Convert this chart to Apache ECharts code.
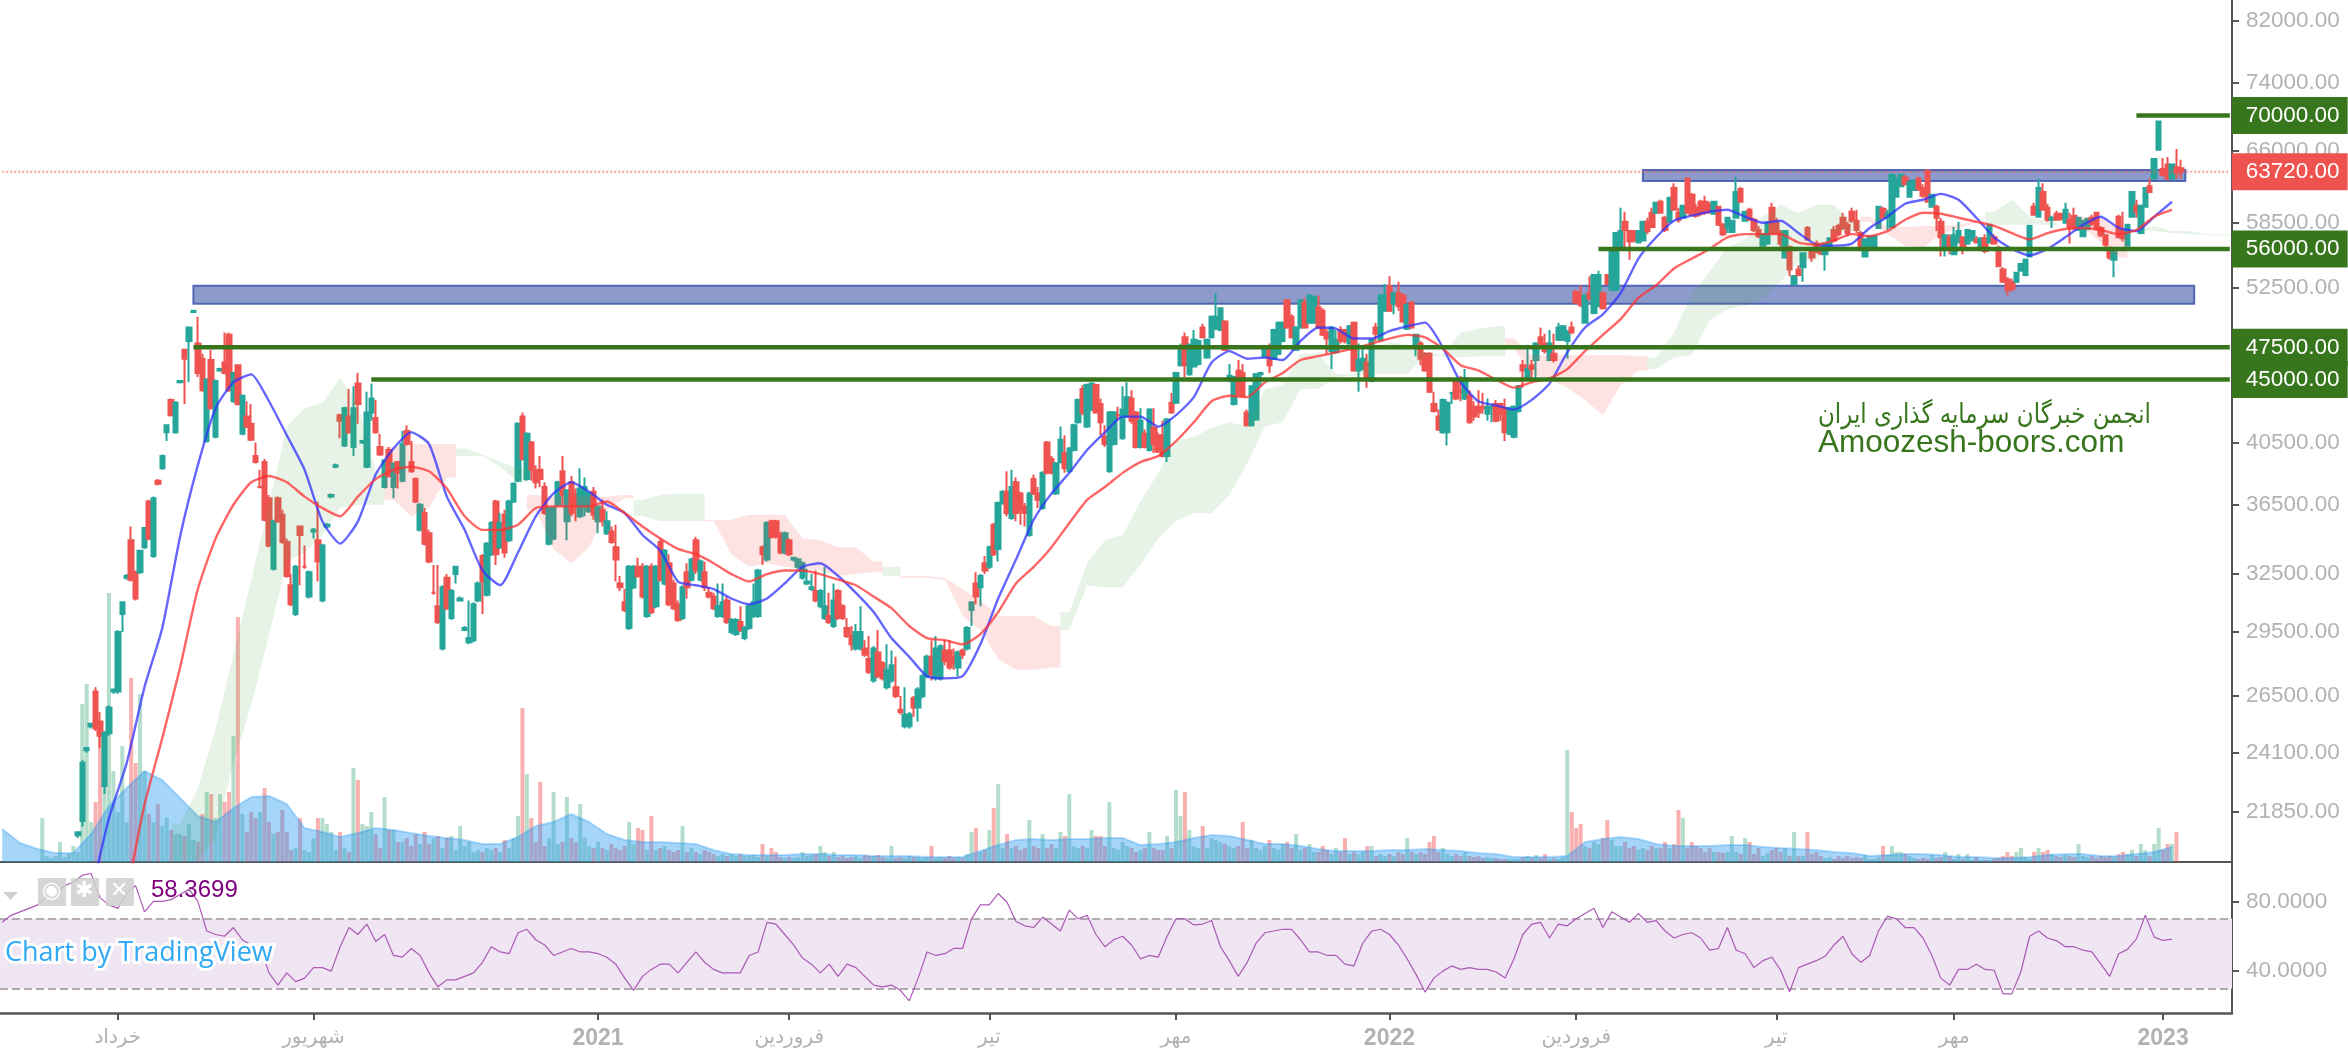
<!DOCTYPE html>
<html><head><meta charset="utf-8"><style>html,body{margin:0;padding:0;background:#fff}#c{width:2348px;height:1050px}</style>
<script src="https://cdn.jsdelivr.net/npm/echarts@6/dist/echarts.min.js"></script></head><body><div id="c"></div><script>
const BAR_COUNT=502, FIRST_CANDLE=17, PRICE_UNIT=100;
const tickBars=[26,70,134,177,222,264,312,354,399,439,486];
const tickNames=['خرداد','شهریور','2021','فروردین','تیر','مهر','2022','فروردین','تیر','مهر','2023'];
const priceTicks=[82000,74000,66000,58500,52500,40500,36500,32500,29500,26500,24100,21850];
const rsiTicks=[80,40];
// open, high, low, close in hundreds
const ohlc=[
[210,211,209,211],[215,238,213,237],[242,243,241,243],[252,253,251,253],[267,269,250,251],[254,258,243,248],[228,250,225,249],[249,261,248,260],
[267,268,266,268],[267,296,266,295],[304,310,295,310],[323,325,322,324],[344,352,321,322],[326,327,311,312],[326,338,325,338],[340,351,339,351],
[367,368,344,345],[335,370,334,369],[380,381,377,378],[388,397,387,396],[412,417,406,417],[435,436,423,424],[412,434,411,433],[448,449,447,449],
[473,473,432,466],[480,491,448,491],[504,505,503,505],[478,500,452,455],[466,470,441,442],[406,451,405,450],[465,473,428,429],[409,450,408,449],
[457,459,456,458],[463,487,454,455],[485,487,441,442],[434,456,433,455],[461,461,431,432],[411,439,410,438],[423,434,415,416],[418,432,406,407],
[396,405,391,392],[376,387,375,376],[392,394,355,356],[369,371,340,341],[328,356,327,355],[369,370,354,355],[359,362,342,343],[343,345,323,324],
[319,325,308,309],[304,330,303,329],[352,352,319,347],[329,341,328,329],[313,327,312,326],[349,351,345,350],[344,367,321,332],[311,342,310,341],
[352,354,351,353],[370,372,369,371],[389,391,388,390],[424,425,408,420],[403,430,402,429],[423,443,411,412],[402,445,396,429],[447,455,418,432],
[405,407,404,406],[389,441,388,426],[426,447,420,436],[422,435,411,412],[402,411,396,397],[376,394,375,393],[400,402,382,383],[376,391,369,391],
[392,392,375,385],[380,413,379,404],[413,417,403,404],[392,406,385,386],[381,382,366,367],[350,366,349,365],[360,363,341,342],[348,350,331,332],
[315,330,314,315],[308,330,299,300],[287,319,286,318],[323,325,306,307],[302,317,301,316],[325,329,320,329],[311,313,311,312],[296,298,296,297],
[290,311,289,292],[291,310,290,309],[311,321,310,320],[335,336,304,321],[314,343,313,342],[336,355,335,354],[367,368,330,336],[340,360,339,354],
[359,362,334,337],[344,368,343,367],[367,379,366,378],[380,419,379,418],[423,426,393,394],[381,412,380,411],[405,406,380,387],[386,390,375,379],
[387,396,376,381],[376,379,359,360],[342,364,341,363],[345,364,344,363],[365,380,364,379],[386,396,364,371],[355,374,344,374],[379,383,358,360],
[372,375,355,365],[358,388,357,375],[365,382,358,376],[361,373,360,372],[373,376,356,359],[355,364,348,364],[362,368,352,355],[348,361,347,355],
[349,352,342,343],[340,353,321,333],[320,324,316,318],[310,317,305,306],[297,330,296,329],[318,330,317,329],[329,334,323,324],[329,331,312,313],
[303,330,302,329],[329,331,304,305],[308,330,307,329],[343,345,321,322],[320,339,319,338],[331,336,308,309],[320,322,306,307],[309,311,300,301],
[302,319,301,318],[326,331,312,318],[322,334,321,333],[344,346,325,327],[322,333,321,332],[326,332,316,318],[315,318,312,313],[313,315,306,307],
[303,320,302,308],[303,320,302,310],[311,313,299,300],[295,302,294,301],[294,302,293,301],[300,308,295,296],[292,298,291,297],[297,309,296,308],
[303,320,302,310],[303,328,302,327],[340,341,330,336],[333,355,332,354],[355,356,345,346],[355,356,345,346],[347,349,336,337],[337,349,336,348],
[344,345,335,336],[333,334,332,334],[329,334,328,333],[323,332,322,331],[320,328,319,321],[317,325,316,318],[316,327,310,311],[308,317,307,316],
[302,329,301,308],[303,315,299,300],[298,320,297,311],[316,317,301,302],[308,309,301,302],[297,302,292,293],[293,298,286,289],[287,299,286,295],
[287,308,286,295],[287,291,283,284],[282,293,275,276],[272,288,271,287],[285,296,273,274],[280,281,272,273],[269,289,268,277],[272,286,271,279],
[269,283,264,265],[259,265,257,258],[252,269,251,257],[252,258,251,257],[264,265,256,260],[260,269,254,268],[265,275,264,274],[274,284,273,283],
[283,291,272,275],[273,293,272,287],[273,289,272,288],[286,291,279,281],[286,291,277,278],[283,287,277,280],[278,286,274,285],[286,287,282,284],
[287,298,286,297],[306,310,298,310],[320,326,309,313],[318,325,308,324],[331,335,325,327],[329,341,328,340],[353,354,335,336],[339,367,332,366],
[366,374,365,373],[373,386,358,360],[357,387,356,376],[379,382,355,360],[372,373,353,362],[364,366,352,360],[347,373,346,372],[381,384,371,372],
[372,376,363,368],[363,386,362,385],[405,406,384,385],[394,396,384,385],[372,392,371,391],[392,416,391,407],[398,410,385,388],[386,402,385,401],
[400,418,399,417],[419,436,418,435],[443,446,424,426],[416,447,415,446],[428,448,427,447],[446,447,425,426],[432,436,410,419],[409,417,402,404],
[386,427,385,426],[404,427,403,426],[424,430,420,424],[408,445,407,428],[423,448,422,437],[436,442,418,420],[426,427,401,402],[402,429,401,420],
[411,414,401,402],[400,429,399,428],[415,429,398,404],[410,412,398,399],[410,420,395,396],[396,422,392,421],[433,440,425,426],[433,456,432,455],
[461,478,460,475],[483,487,452,461],[454,478,453,477],[460,489,459,481],[462,481,461,480],[491,494,482,483],[467,482,466,481],[483,501,482,500],
[490,520,489,500],[489,508,488,507],[496,497,472,473],[452,462,448,453],[432,453,431,452],[457,465,438,439],[455,462,437,438],[426,428,416,417],
[417,446,416,445],[421,455,420,454],[454,456,445,455],[468,474,467,473],[473,478,455,461],[466,490,465,489],[470,496,469,495],[480,496,479,495],
[514,515,490,491],[500,502,482,483],[473,492,472,491],[491,515,490,514],[512,516,490,491],[495,519,494,518],[495,518,494,517],[508,518,490,491],
[505,507,484,485],[487,490,470,482],[472,492,458,491],[471,489,470,481],[489,492,478,480],[489,490,478,480],[478,493,477,492],[495,496,456,457],
[457,478,441,465],[458,474,457,466],[463,470,444,452],[449,482,448,481],[491,495,480,486],[481,519,480,518],[505,528,504,518],[526,535,504,505],
[511,521,502,520],[520,530,505,509],[518,520,495,496],[490,511,489,510],[512,513,490,491],[476,486,468,485],[478,480,461,466],[470,471,456,457],
[470,471,440,441],[432,441,426,427],[423,428,413,414],[412,436,411,435],[412,434,403,433],[440,441,432,440],[449,450,435,436],[442,453,434,441],
[436,458,435,451],[438,442,418,419],[430,434,420,423],[430,442,422,426],[430,440,425,429],[425,436,420,430],[429,432,419,430],[432,435,419,420],
[432,433,420,425],[429,436,406,412],[411,430,410,429],[409,431,408,430],[427,446,426,445],[461,465,444,457],[450,477,449,458],[461,465,450,458],
[465,479,449,478],[483,491,475,478],[478,486,470,472],[465,489,464,478],[470,486,463,465],[481,495,480,491],[481,493,480,492],[480,489,466,488],
[491,496,486,487],[521,523,511,512],[518,527,508,510],[495,519,494,518],[520,535,514,515],[503,537,502,536],[509,540,508,536],[520,522,506,507],
[536,537,527,528],[523,560,522,559],[523,576,522,575],[560,600,559,577],[586,596,558,578],[577,578,550,567],[577,578,566,568],[566,578,565,577],
[568,587,567,586],[586,590,574,577],[595,600,580,581],[595,606,594,605],[606,608,594,595],[590,592,576,578],[586,611,585,610],[620,625,597,598],
[595,600,585,588],[590,603,589,602],[630,631,594,595],[613,615,592,593],[600,604,590,592],[606,608,592,594],[606,612,593,595],[603,606,594,596],
[594,607,593,606],[601,602,582,583],[583,585,572,574],[580,591,575,590],[576,588,575,587],[590,632,589,616],[619,621,605,606],[587,597,586,596],
[598,600,587,588],[588,590,576,578],[578,582,570,572],[563,575,558,574],[565,586,564,585],[600,605,574,575],[585,590,574,576],[576,578,562,565],
[552,578,551,577],[562,563,535,541],[528,536,527,535],[541,545,535,536],[543,557,530,556],[580,582,568,569],[558,562,548,552],[565,568,556,557],
[560,563,554,556],[555,566,540,565],[560,571,559,570],[578,582,566,568],[582,584,572,574],[590,595,578,580],[583,586,572,575],[596,600,585,587],
[587,598,575,578],[575,577,558,560],[553,570,552,569],[560,573,559,572],[560,573,559,572],[580,602,579,601],[599,601,589,590],[590,598,578,594],
[581,635,580,634],[611,631,610,630],[622,635,621,634],[631,634,623,624],[611,627,610,626],[618,629,617,628],[630,632,617,619],[620,624,610,612],
[638,640,605,606],[601,614,600,613],[601,603,577,590],[586,590,553,571],[560,574,553,573],[571,574,555,561],[555,581,554,573],[566,586,565,577],
[571,572,555,561],[565,579,564,578],[568,578,567,577],[569,572,565,566],[561,571,560,570],[570,574,556,558],[566,584,565,583],[571,574,564,565],
[561,563,543,544],[541,543,529,530],[532,534,518,523],[530,533,521,524],[530,539,529,538],[540,547,539,546],[536,551,535,550],[553,583,552,582],
[601,605,592,593],[591,630,590,620],[616,625,597,598],[600,604,586,588],[588,592,580,590],[594,597,587,588],[594,595,587,589],[585,605,584,598],
[588,595,565,581],[592,600,578,580],[578,591,577,590],[572,588,571,587],[579,590,578,589],[590,593,582,584],[595,596,578,580],[580,582,571,573],
[573,574,562,564],[561,562,550,552],[550,558,534,557],[591,593,570,571],[577,596,567,570],[563,584,562,583],[591,617,590,616],[602,608,590,596],
[575,603,574,602],[601,621,600,620],[622,630,615,616],[630,652,629,651],[661,694,660,693],[640,652,632,634],[645,653,628,630],[630,646,629,645],
[642,662,630,636],[641,650,630,637.2]];
const volume=[0,0,0,0,0,0,0,0,0,44,6,4,6,20,5,8,16,10,158,178,40,60,127,80,269,91,50,116,40,184,
99,168,91,48,40,58,36,44,32,28,28,26,38,22,20,48,70,68,44,68,60,70,126,245,48,30,50,44,50,74,
40,28,30,52,30,12,14,44,12,10,24,44,44,38,30,12,30,14,10,94,82,38,36,50,28,14,65,32,32,20,
20,24,16,28,18,30,18,24,26,14,24,26,12,36,16,20,10,12,10,14,12,14,10,22,14,24,46,154,88,44,
20,80,16,24,70,18,20,65,24,20,58,24,16,14,20,14,12,18,14,12,16,40,18,34,32,12,46,12,14,16,
12,10,12,36,10,14,10,8,12,10,8,6,8,6,8,6,8,6,6,7,5,18,6,14,10,5,4,5,4,5,
10,6,7,8,16,10,6,10,5,6,4,5,6,4,7,6,6,7,5,4,16,4,5,4,6,5,5,4,5,16,
4,5,4,6,4,5,4,8,30,34,10,12,32,54,78,14,28,14,16,12,14,42,16,14,28,14,18,14,30,26,
68,16,14,16,14,32,26,26,16,60,14,12,20,16,14,10,12,14,30,14,12,12,26,14,72,46,70,32,16,14,
36,14,24,22,20,18,16,14,16,40,14,22,14,12,16,22,14,12,18,20,14,28,12,14,18,10,10,16,12,8,
14,10,24,8,10,8,10,16,16,6,8,6,8,6,10,8,24,10,8,10,8,20,26,10,14,8,6,8,6,10,
6,5,6,4,5,4,4,3,3,3,3,3,5,6,4,7,4,8,3,4,3,5,112,50,34,38,16,14,20,18,
24,42,22,16,16,20,14,16,12,14,12,16,14,14,20,14,18,52,44,14,20,16,14,10,14,10,
10,9,10,26,10,8,24,20,8,14,6,9,12,14,10,14,6,30,6,6,30,8,10,6,4,5,3,6,4,6,
4,5,4,7,3,3,5,16,7,16,10,10,8,6,4,3,4,3,7,4,5,10,6,3,8,3,8,2,5,2,
2,2,3,4,6,10,6,10,14,5,3,10,14,10,12,8,6,5,7,6,5,18,6,5,6,4,6,5,6,5,
8,10,8,12,6,18,12,6,18,34,12,18,18,30];
const VOLUME_AXIS_MAX=862;
const volumeAverage=[33,19,13,9,9,28,56,74,91,82,64,46,40,54,65,66,58,34,30,25,29,34,32,29,26,24,22,18,18,25,36,40,48,40,28,22,20,20,19,18,12,8,7,7,7,8,8,7,7,6,6,6,5,5,5,11,17,22,23,22,23,23,24,24,17,18,20,24,27,26,22,18,18,16,13,11,11,11,12,12,13,12,11,9,8,5,5,5,6,20,23,25,23,18,16,16,16,17,17,15,14,13,12,10,9,6,7,8,8,7,5,5,4,4,5,7,8,8,6,6,8,10,15];
const LINE_STEP=4;
const fastAverage=[null,null,null,null,null,190,216,237,269,297,346,390,429,448,454,434,410,387,355,342,355,384,401,412,404,370,350,327,319,337,358,372,379,373,365,360,347,338,321,319,317,312,309,312,320,329,331,324,315,305,292,283,274,273,274,289,312,333,356,372,385,400,412,423,423,416,424,437,463,472,466,467,465,480,491,490,482,482,488,492,495,475,448,434,431,428,435,447,471,491,502,520,551,571,587,592,596,598,591,585,587,575,564,563,565,580,591,604,608,614,608,590,571,560,554,560,571,583,591,580,577,591,606];
const slowAverage=[null,null,null,null,null,null,null,190,221,247,278,317,345,365,379,383,379,370,363,358,370,381,387,389,386,375,358,350,350,353,363,364,364,364,367,360,352,345,339,336,331,325,321,325,327,327,325,322,319,313,307,298,292,291,289,294,305,320,329,340,354,368,376,385,392,396,406,419,434,438,437,448,455,465,468,471,474,478,482,485,483,474,461,457,450,444,448,451,458,472,485,498,516,527,542,551,560,571,574,574,574,566,564,568,574,572,577,588,595,594,590,586,582,575,569,575,579,580,578,574,578,591,598];
const CLOUD_FIRST=10;
const cloudHi=[214,227,251,284,322,365,416,429,433,451,433,386,402,404,404,404,401,397,392,388,371,370,370,370,370,371,368,371,372,372,356,356,359,359,359,345,344,340,340,332,329,324,324,323,317,311,303,303,303,298,305,331,344,347,367,385,406,409,415,419,416,443,446,470,470,454,454,472,479,477,471,469,487,490,492,482,469,469,469,469,469,469,468,467,487,519,539,561,569,591,603,595,603,603,586,591,581,581,582,582,583,586,596,608,591,586,null,591,591,578,578,582,577,577,574,574];
const cloudLo=[201,201,209,237,261,293,332,337,347,363,365,365,368,358,363,382,396,396,389,379,362,339,331,340,362,369,358,355,355,355,355,336,329,331,329,328,327,324,325,326,324,323,323,322,303,296,282,277,277,278,296,319,318,318,330,345,355,360,360,371,391,416,419,443,443,452,453,454,454,454,468,468,467,468,468,474,454,450,444,435,424,446,457,458,467,469,497,506,509,516,530,548,550,575,577,586,574,563,561,574,580,585,583,583,583,583,null,580,566,552,577,577,575,574,573,573];
const cloudRuns=[[10,21,1],[22,25,0],[26,29,1],[30,35,0],[36,39,1],[40,49,0],[50,50,1],[51,59,0],[60,84,1],[85,92,0],[93,104,1],[105,111,0],[112,115,1],[117,119,0],[120,125,1]];
const RSI_STEP=2;
const rsi=[68,72,74,76,78,83,85,89,91,95,96,82,78,76,85,89,74,80,80,81,84,87,80,63,61,60,65,58,55,54,39,32,39,34,36,42,42,40,54,65,61,67,57,61,49,48,53,49,39,31,35,35,37,39,45,54,51,50,62,64,58,55,49,51,53,51,51,50,48,44,36,29,37,41,44,44,39,45,51,45,41,39,39,39,49,51,68,67,61,55,47.5,44,39,44,37,44,42,37,32,31,32,29,23,36,51,49,50,53,53,70,78,78,84.5,79.5,68.5,66,65,71,67,63,75,70,72,61,54,58,60,55,47,49,48,60,70,70,66.5,67,69,54,46,37,45,56,62,63,64,64,58,51,51,49,49,44,43,56,63,64,61,55,47,38,28,36,40,43,41,42,41,41,39.5,36,47,61,67,68,59,67,66,70,73,76,65,74,71,68,73,68,69,63,59,61,62,59,52,53,65,52,50,42,46,48,40.5,28,42,44,46,48.5,55,60,50,45,49,63,71.5,70,65,65,59,49,36,32,41,41,44,41,40.5,27,27,39.5,60,63,59,57.5,54,54,52,51,44,37,50,52.5,58.5,72,59.5,57.6,58.37];
const rsiBand=[30,70];
const levels=[70000,56000,47500,45000];
const levelStarts=[480,359,43,83];
const lastPrice=63720;
const zoneStarts=[43,369];
const zoneEnds=[493,491];
const zoneHighs=[52650,63900];
const zoneLows=[51100,62750];

const C_UP='#26a69a',C_DOWN='#ef5350',C_LEVEL='#38761d',C_TEXT='#b2b2b2',C_AXIS='#555555';
const FONT='"Liberation Sans","DejaVu Sans",sans-serif';
const categories=Array.from({length:BAR_COUNT},()=> '');
tickBars.forEach((b,i)=>categories[b]=tickNames[i]);
const candleData=Array.from({length:FIRST_CANDLE},()=>['-','-','-','-']).concat(ohlc.map(r=>[r[0]*PRICE_UNIT,r[3]*PRICE_UNIT,r[2]*PRICE_UNIT,r[1]*PRICE_UNIT]));
const volumeData=volume.map((v,i)=>{const r=ohlc[i-FIRST_CANDLE];const down=r&&r[3]<r[0];return {value:v,itemStyle:{color:down?'rgba(239,83,80,.45)':'rgba(76,175,130,.42)'}};});
const stepped=(arr,step,unit)=>arr.map((v,i)=>v==null?null:[i*step,v*unit]).filter(Boolean);
const bySide=()=>({xAxisIndex:0,yAxisIndex:0});

function clouds(){return {type:'custom',...bySide(),z:5,silent:true,clip:true,animation:false,
 data:cloudRuns.map(r=>[r[0]*LINE_STEP,cloudHi[r[0]-CLOUD_FIRST]*PRICE_UNIT]),
 renderItem(p,api){const r=cloudRuns[p.dataIndex],top=[],bot=[];
  for(let m=r[0];m<=r[1];m++){const i=m-CLOUD_FIRST;const a=m*LINE_STEP;
   const xs=(m===r[0]?[a-2,a]:[a]).concat(m===r[1]?[a+2]:[]);
   xs.forEach(x=>{top.push(api.coord([x,cloudHi[i]*PRICE_UNIT]));bot.unshift(api.coord([x,cloudLo[i]*PRICE_UNIT]));});}
  return {type:'polygon',shape:{points:top.concat(bot)},style:{fill:r[2]?'rgba(67,160,71,.13)':'rgba(244,67,54,.15)'}};}};}
function zones(){return {type:'custom',...bySide(),z:3,silent:true,clip:true,animation:false,
 data:zoneStarts.map((s,i)=>[s,zoneHighs[i]]),
 renderItem(p,api){const i=p.dataIndex;const a=api.coord([zoneStarts[i],zoneHighs[i]]),b=api.coord([zoneEnds[i],zoneLows[i]]);
  return {type:'rect',shape:{x:a[0],y:a[1],width:b[0]-a[0],height:b[1]-a[1]},style:{fill:'rgba(46,73,160,.55)',stroke:'rgba(60,85,170,.85)',lineWidth:2}};}};}
const endTag=(bg)=>({show:true,distance:2,formatter:p=>p.value[1].toFixed(2),color:'#fff',backgroundColor:bg,fontFamily:FONT,fontSize:22.5,padding:[7,8,7,14],align:'left'});
const levelSeries=levels.map((v,i)=>({type:'line',...bySide(),z:7,silent:true,symbol:'none',animation:false,data:[[levelStarts[i],v],[BAR_COUNT-1,v]],lineStyle:{color:C_LEVEL,width:4.5},endLabel:endTag(C_LEVEL)}));
const axisLine={show:true,lineStyle:{color:C_AXIS,width:2}};
const option={animation:false,backgroundColor:'#fff',
 grid:[{left:0,right:116,top:0,bottom:188},{left:0,right:116,top:863,bottom:36}],
 xAxis:[
  {type:'category',gridIndex:0,data:categories,boundaryGap:true,axisLine,axisTick:{show:false},axisLabel:{show:false},splitLine:{show:false}},
  {type:'category',gridIndex:1,data:categories,boundaryGap:true,axisLine:{show:true,lineStyle:{color:C_AXIS,width:2.5}},
   axisTick:{show:true,length:7,alignWithLabel:true,interval:(i,v)=>v!=='',lineStyle:{color:C_AXIS,width:2}},
   axisLabel:{show:true,interval:(i,v)=>v!=='',margin:14,color:C_TEXT,fontFamily:FONT,fontSize:20,
    formatter:v=>/^\d+$/.test(v)?`{y|${v}}`:v,rich:{y:{fontFamily:FONT,fontSize:23,fontWeight:'bold',color:C_TEXT}}},splitLine:{show:false}}],
 yAxis:[
  {type:'log',gridIndex:0,position:'right',min:20077,max:84930,logBase:10,axisLine,
   axisTick:{show:true,length:7,customValues:priceTicks,lineStyle:{color:C_AXIS,width:2}},
   axisLabel:{show:true,customValues:priceTicks,margin:14,color:C_TEXT,fontFamily:FONT,fontSize:22.5,formatter:v=>Number(v).toFixed(2),showMinLabel:true,showMaxLabel:true},splitLine:{show:false}},
  {type:'value',gridIndex:0,min:0,max:VOLUME_AXIS_MAX,show:false,splitLine:{show:false}},
  {type:'value',gridIndex:1,position:'right',min:16,max:102,axisLine,
   axisTick:{show:true,length:7,customValues:rsiTicks,lineStyle:{color:C_AXIS,width:2}},
   axisLabel:{show:true,customValues:rsiTicks,margin:14,color:C_TEXT,fontFamily:FONT,fontSize:22.5,formatter:v=>Number(v).toFixed(4)},splitLine:{show:false}}],
 series:[
  {type:'bar',xAxisIndex:0,yAxisIndex:1,z:1,silent:true,barWidth:4,data:volumeData,animation:false},
  {type:'line',xAxisIndex:0,yAxisIndex:1,z:2,silent:true,symbol:'none',data:stepped(volumeAverage,LINE_STEP,1),
   lineStyle:{color:'rgba(33,150,243,.3)',width:2},areaStyle:{color:'rgba(33,150,243,.4)',opacity:1}},
  zones(),
  {type:'candlestick',...bySide(),z:4,silent:true,barWidth:5,data:candleData,
   itemStyle:{color:C_UP,color0:C_DOWN,borderColor:C_UP,borderColor0:C_DOWN,borderWidth:2}},
  clouds(),
  {type:'line',...bySide(),z:6,silent:true,symbol:'none',smooth:.2,data:stepped(fastAverage,LINE_STEP,PRICE_UNIT),lineStyle:{color:'rgba(50,50,255,.75)',width:2.4}},
  {type:'line',...bySide(),z:6,silent:true,symbol:'none',smooth:.2,data:stepped(slowAverage,LINE_STEP,PRICE_UNIT),lineStyle:{color:'rgba(255,50,50,.75)',width:2.4}},
  ...levelSeries,
  {type:'line',...bySide(),z:7,silent:true,symbol:'none',data:[[0,lastPrice],[BAR_COUNT-1,lastPrice]],lineStyle:{color:'rgba(239,83,80,.55)',width:2,type:'dotted'},endLabel:endTag(C_DOWN)},
  {type:'line',xAxisIndex:1,yAxisIndex:2,z:5,silent:true,symbol:'none',data:stepped(rsi,RSI_STEP,1),lineStyle:{color:'#ab5ab5',width:1.2},
   markArea:{silent:true,z:1,itemStyle:{color:'#f0e5f2'},data:[[{yAxis:rsiBand[0]},{yAxis:rsiBand[1]}]]},
   markLine:{silent:true,symbol:'none',label:{show:false},lineStyle:{color:'#b3a8b3',width:2,type:'dashed'},data:rsiBand.map(v=>({yAxis:v}))}}
 ],
 graphic:[
  {type:'text',z:50,x:1818,y:402,scaleX:.85,style:{text:'انجمن خبرگان سرمایه گذاری ایران',fill:C_LEVEL,font:'27px "DejaVu Sans"'}},
  {type:'text',z:50,x:1818,y:427,style:{text:'Amoozesh-boors.com',fill:C_LEVEL,font:'31.5px "Liberation Sans"'}},
  {type:'text',z:50,left:151,top:878,style:{text:'58.3699',fill:'#800080',font:'24px "Liberation Sans"'}},
  {type:'polygon',z:50,shape:{points:[[3,892],[18,892],[10.5,900]]},style:{fill:'#cfcfcf'}},
  {type:'rect',z:50,shape:{x:38,y:878,width:28,height:28},style:{fill:'rgba(207,207,207,.85)'}},
  {type:'rect',z:50,shape:{x:71,y:878,width:28,height:28},style:{fill:'rgba(207,207,207,.85)'}},
  {type:'rect',z:50,shape:{x:106,y:878,width:28,height:28},style:{fill:'rgba(207,207,207,.85)'}},
  {type:'text',z:51,left:42,top:880,style:{text:'◉',fill:'#fff',font:'22px "DejaVu Sans"'}},
  {type:'text',z:51,left:75,top:880,style:{text:'✱',fill:'#fff',font:'22px "DejaVu Sans"'}},
  {type:'text',z:51,left:110,top:880,style:{text:'✕',fill:'#fff',font:'22px "DejaVu Sans"'}},
  {type:'text',z:50,left:2,top:937,style:{text:'Chart by TradingView',fill:'#2fa8f6',stroke:'#fff',lineWidth:6,font:'27px "Open Sans"'}}
 ]};
echarts.init(document.getElementById('c'),null,{renderer:'canvas'}).setOption(option);
</script></body></html>
